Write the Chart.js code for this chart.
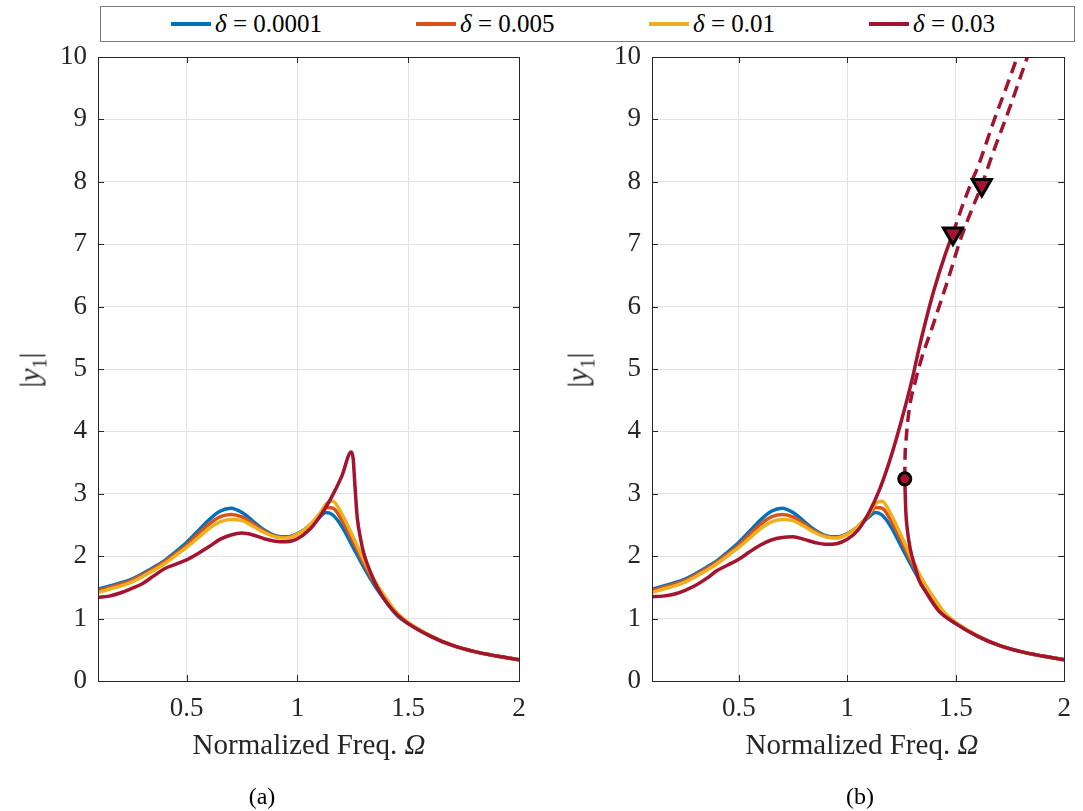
<!DOCTYPE html>
<html><head><meta charset="utf-8">
<script src="https://cdn.jsdelivr.net/npm/chart.js@4.4.0/dist/chart.umd.min.js"></script>
<style>
body{margin:0;background:#fff;width:1083px;height:811px;overflow:hidden;position:relative;font-family:"Liberation Serif","Times New Roman",Tinos,"Nimbus Roman","FreeSerif","DejaVu Serif",serif;color:#262626}
canvas{position:absolute;top:0}
#ca{left:0}
#cb{left:545px}
.legend{position:absolute;left:100px;top:6px;width:975px;height:36px;border:1px solid #7a7a7a;box-sizing:border-box;background:#fff}
.item{position:absolute;top:0;height:34px;display:flex;align-items:center;font-size:25px;white-space:nowrap;color:#000}
.item span.l{display:inline-block;width:40px;height:3.5px;margin-right:4px}
.ytitle{position:absolute;font-size:30px;transform:translate(-50%,-50%) rotate(-90deg);white-space:nowrap;color:#262626}
.ytitle sub{font-size:20px}
.xtitle{position:absolute;font-size:29px;transform:translateX(-50%);white-space:nowrap;top:728px;color:#262626}
.cap{position:absolute;font-size:24px;top:783px;transform:translateX(-50%);color:#000}
</style></head>
<body>
<canvas id="ca" width="545" height="811"></canvas>
<canvas id="cb" width="538" height="811"></canvas>
<div class="legend">
  <div class="item" style="left:70px"><span class="l" style="background:#0072BD"></span><span><i>δ</i> = 0.0001</span></div>
  <div class="item" style="left:315px"><span class="l" style="background:#D95319"></span><span><i>δ</i> = 0.005</span></div>
  <div class="item" style="left:548px"><span class="l" style="background:#EDB120"></span><span><i>δ</i> = 0.01</span></div>
  <div class="item" style="left:768px"><span class="l" style="background:#A2142F"></span><span><i>δ</i> = 0.03</span></div>
</div>
<div class="ytitle" style="left:32px;top:370px">|<i>y</i><sub>1</sub>|</div>
<div class="ytitle" style="left:580px;top:370px">|<i>y</i><sub>1</sub>|</div>
<div class="xtitle" style="left:309px">Normalized Freq. <i>Ω</i></div>
<div class="xtitle" style="left:862px">Normalized Freq. <i>Ω</i></div>
<div class="cap" style="left:262px">(a)</div>
<div class="cap" style="left:860px">(b)</div>
<script>
// ---- data ----
const seriesNames = ["δ = 0.0001", "δ = 0.005", "δ = 0.01", "δ = 0.03"];
const xTickValues = [0.5, 1, 1.5, 2];
const yTickValues = [0,1,2,3,4,5,6,7,8,9,10];

const freqLow = [0.10,0.15,0.20,0.25,0.30,0.35,0.40,0.45,0.50,0.55,0.60,0.65,0.70,0.75,0.80,0.85,0.90,0.95,1.00,1.05,1.10,1.13,1.16,1.20,1.25,1.30,1.35,1.40,1.45,1.50,1.60,1.70,1.80,1.90,2.00];
const ampBlue   = [1.47,1.52,1.57,1.63,1.72,1.82,1.93,2.07,2.22,2.40,2.58,2.72,2.77,2.70,2.56,2.42,2.33,2.31,2.36,2.47,2.63,2.70,2.66,2.48,2.15,1.82,1.52,1.27,1.05,0.92,0.72,0.57,0.47,0.40,0.34];
const ampOrange = [1.45,1.50,1.55,1.61,1.70,1.80,1.91,2.04,2.18,2.35,2.51,2.63,2.67,2.63,2.52,2.40,2.32,2.30,2.36,2.48,2.66,2.78,2.77,2.58,2.24,1.88,1.56,1.30,1.07,0.93,0.72,0.57,0.47,0.40,0.34];
const ampYellow = [1.42,1.47,1.52,1.58,1.67,1.77,1.88,2.01,2.14,2.29,2.44,2.55,2.59,2.57,2.48,2.38,2.31,2.29,2.35,2.48,2.68,2.84,2.88,2.68,2.32,1.94,1.60,1.33,1.09,0.94,0.73,0.57,0.47,0.40,0.34];

// panel (a): delta = 0.03
const freqRedA = [0.10,0.15,0.20,0.25,0.30,0.35,0.40,0.45,0.50,0.55,0.60,0.65,0.70,0.75,0.80,0.85,0.90,0.95,1.00,1.05,1.10,1.15,1.20,1.243,1.252,1.258,1.263,1.27,1.286,1.30,1.33,1.36,1.40,1.45,1.50,1.60,1.70,1.80,1.90,2.00];
const ampRedA  = [1.34,1.36,1.41,1.48,1.56,1.68,1.80,1.87,1.94,2.04,2.15,2.27,2.34,2.37,2.34,2.28,2.24,2.23,2.28,2.41,2.63,2.92,3.28,3.67,3.55,3.22,2.95,2.62,2.26,2.04,1.74,1.50,1.27,1.06,0.92,0.72,0.57,0.47,0.40,0.34];

// panel (b): delta = 0.03, stable upper branch
const freqRedBUpper = [0.10,0.15,0.20,0.25,0.30,0.35,0.40,0.45,0.50,0.55,0.60,0.65,0.70,0.75,0.80,0.85,0.90,0.95,1.00,1.05,1.10,1.15,1.20,1.25,1.30,1.33,1.36,1.40,1.45,1.487];
const ampRedBUpper  = [1.35,1.36,1.39,1.45,1.53,1.64,1.77,1.86,1.95,2.07,2.18,2.26,2.30,2.31,2.27,2.22,2.19,2.20,2.27,2.42,2.70,3.08,3.58,4.18,4.85,5.32,5.75,6.27,6.82,7.17];
// panel (b): delta = 0.03, stable lower branch
const freqRedBLower = [1.265,1.267,1.270,1.277,1.290,1.315,1.33,1.36,1.42,1.50,1.60,1.70,1.80,1.90,2.00];
const ampRedBLower  = [3.24,3.00,2.70,2.42,2.12,1.80,1.62,1.44,1.13,0.92,0.72,0.57,0.47,0.40,0.34];
// panel (b): unstable branches (dashed)
const freqDash1 = [1.265,1.266,1.27,1.285,1.315,1.345,1.387,1.428,1.473,1.519,1.57,1.62,1.67,1.75,1.81,1.85];
const ampDash1  = [3.24,3.54,3.81,4.34,4.82,5.20,5.62,6.05,6.53,7.05,7.52,7.95,8.45,9.20,9.80,10.20];
const freqDash2 = [1.487,1.527,1.579,1.602,1.677,1.738,1.783,1.80];
const ampDash2  = [7.17,7.58,8.05,8.24,8.99,9.56,10.00,10.18];
// bifurcation markers
const circleFreq = [1.265];
const circleAmp  = [3.24];
const triFreq = [1.487, 1.620];
const triAmp  = [7.17, 7.95];

// ---- helpers ----
const COLORS = ["#0072BD", "#D95319", "#EDB120", "#A2142F"];
const FONT_FAMILY = '"Liberation Serif", "Times New Roman", Tinos, "Nimbus Roman", FreeSerif, "DejaVu Serif", serif';
const zip = (xs, ys) => xs.map((x, i) => ({x: x, y: ys[i]}));
const LW = 3.5;

function lineDs(label, xs, ys, color, order, dash) {
  return {
    label: label, data: zip(xs, ys), borderColor: color, backgroundColor: color,
    borderWidth: LW, pointRadius: 0, cubicInterpolationMode: 'monotone',
    borderDash: dash || [], order: order, clip: 0, fill: false
  };
}

const boxPlugin = {
  id: 'boxTicks',
  afterDraw(chart) {
    const {ctx, chartArea: a, scales: {x, y}} = chart;
    ctx.save();
    ctx.strokeStyle = '#262626';
    ctx.lineWidth = 1;
    ctx.beginPath();
    const L = 6;
    xTickValues.forEach(v => {
      const px = Math.round(x.getPixelForValue(v)) + 0.5;
      ctx.moveTo(px, a.bottom); ctx.lineTo(px, a.bottom - L);
      ctx.moveTo(px, a.top); ctx.lineTo(px, a.top + L);
    });
    yTickValues.forEach(v => {
      const py = Math.round(y.getPixelForValue(v)) + 0.5;
      ctx.moveTo(a.left, py); ctx.lineTo(a.left + L, py);
      ctx.moveTo(a.right, py); ctx.lineTo(a.right - L, py);
    });
    ctx.stroke();
    ctx.strokeRect(Math.round(a.left) + 0.5, Math.round(a.top) + 0.5,
                   Math.round(a.right - a.left), Math.round(a.bottom - a.top));
    ctx.restore();
  }
};

function makeChart(id, datasets, yWidth, padRight) {
  return new Chart(document.getElementById(id), {
    type: 'line',
    data: {datasets: datasets},
    plugins: [boxPlugin],
    options: {
      responsive: false, animation: false, devicePixelRatio: 1,
      layout: {padding: {top: 57, right: padRight, left: 0, bottom: 0}},
      plugins: {legend: {display: false}, tooltip: {enabled: false}},
      scales: {
        x: {
          type: 'linear', min: 0.1, max: 2,
          afterBuildTicks: s => { s.ticks = xTickValues.map(v => ({value: v})); },
          afterFit: s => { s.height = 130; },
          grid: {color: '#e3e3e3', lineWidth: 1, drawTicks: false},
          border: {display: false},
          ticks: {padding: 12, color: '#262626', maxRotation: 0,
                  font: {family: FONT_FAMILY, size: 27},
                  callback: v => String(v)}
        },
        y: {
          type: 'linear', min: 0, max: 10,
          afterBuildTicks: s => { s.ticks = yTickValues.map(v => ({value: v})); },
          afterFit: s => { s.width = yWidth; },
          grid: {color: '#e3e3e3', lineWidth: 1, drawTicks: false},
          border: {display: false},
          ticks: {padding: 11, color: '#262626',
                  font: {family: FONT_FAMILY, size: 27},
                  callback: v => String(v)}
        }
      }
    }
  });
}

const dsA = [
  lineDs(seriesNames[0], freqLow, ampBlue, COLORS[0], 3),
  lineDs(seriesNames[1], freqLow, ampOrange, COLORS[1], 2),
  lineDs(seriesNames[2], freqLow, ampYellow, COLORS[2], 1),
  lineDs(seriesNames[3], freqRedA, ampRedA, COLORS[3], 0)
];
makeChart('ca', dsA, 98, 26);

const dsB = [
  lineDs(seriesNames[0], freqLow, ampBlue, COLORS[0], 3),
  lineDs(seriesNames[1], freqLow, ampOrange, COLORS[1], 2),
  lineDs(seriesNames[2], freqLow, ampYellow, COLORS[2], 1),
  lineDs(seriesNames[3], freqRedBUpper, ampRedBUpper, COLORS[3], 0),
  lineDs(seriesNames[3] + ' lower', freqRedBLower, ampRedBLower, COLORS[3], 0),
  lineDs(seriesNames[3] + ' unstable 1', freqDash1, ampDash1, COLORS[3], 0, [12, 7]),
  lineDs(seriesNames[3] + ' unstable 2', freqDash2, ampDash2, COLORS[3], 0, [12, 7]),
  {type: 'scatter', label: 'circle', data: zip(circleFreq, circleAmp), pointStyle: 'circle',
   pointRadius: 6, borderWidth: 3, borderColor: '#000', backgroundColor: COLORS[3], order: -1, clip: false, showLine: false},
  {type: 'scatter', label: 'tri', data: zip(triFreq, triAmp), pointStyle: 'triangle', rotation: 180,
   pointRadius: 11, borderWidth: 3, borderColor: '#000', backgroundColor: COLORS[3], order: -1, clip: false, showLine: false}
];
makeChart('cb', dsB, 107, 12);
</script>
</body></html>
